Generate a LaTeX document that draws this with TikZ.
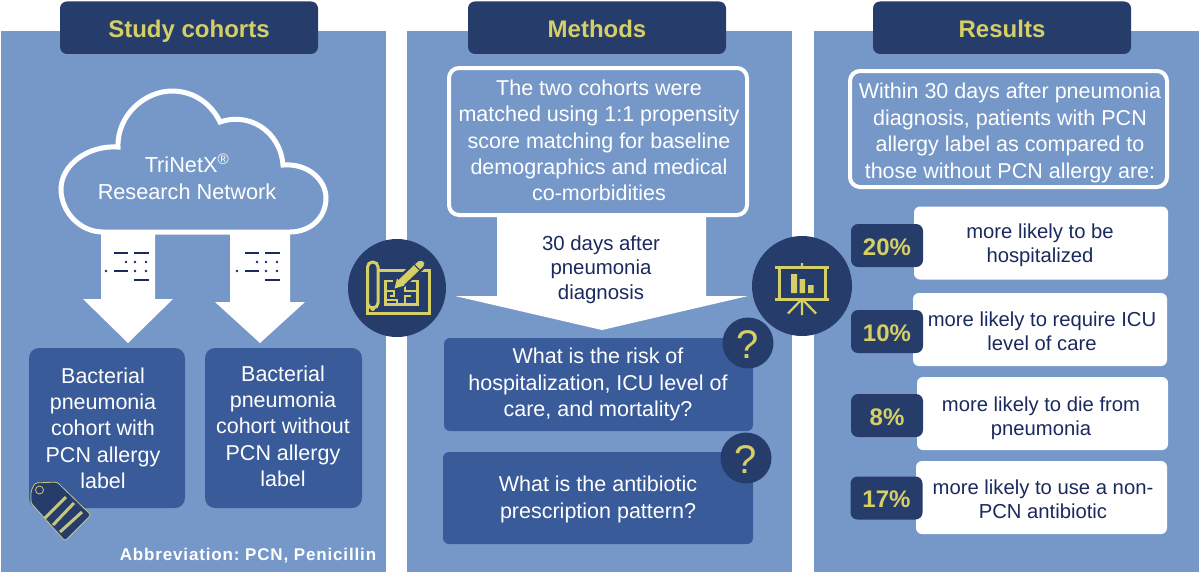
\documentclass[tikz,border=0pt]{standalone}
\usepackage{fontspec}
\setmainfont{Liberation Sans}
\definecolor{panelblue}{HTML}{7698C9}
\definecolor{navy}{HTML}{263D6B}
\definecolor{gold}{HTML}{D6CF66}
\definecolor{boxblue}{HTML}{3A5B9A}
\definecolor{inktext}{HTML}{1A2A5E}
\definecolor{tagline}{HTML}{C4C682}
\tikzset{
  every node/.style={inner sep=0pt,outer sep=0pt,align=center},
  panel/.style={fill=panelblue,minimum width=385pt,minimum height=541pt},
  header/.style={fill=navy,rounded corners=7pt,minimum width=258pt,minimum height=52.5pt,text=gold,text height=18.6pt,text depth=0pt,font=\fontsize{24}{28}\selectfont\bfseries},
  bluebox/.style={fill=boxblue,rounded corners=#1},
  bluebox/.default=10pt,
  outlinebox/.style={draw=white,line width=4pt,fill=panelblue,rounded corners=10pt},
  whitebox/.style={fill=white,rounded corners=6pt,minimum height=73pt},
  pctbox/.style={fill=navy,rounded corners=7pt,minimum width=72pt,minimum height=43pt,text=gold,text height=19pt,text depth=0pt,font=\fontsize{24}{28}\selectfont\bfseries},
  iconcircle/.style={circle,fill=navy},
  qcircle/.style={circle,fill=navy,minimum size=51pt,text=gold,text height=30pt,text depth=0pt,font=\fontsize{40}{44}\selectfont},
  blockarrow/.style={fill=white},
  ink/.style={draw=inktext,line width=1.2pt},
  dotmark/.style={fill=inktext},
  icon/.style={draw=gold,line width=3pt},
  thinicon/.style={draw=gold,line width=2.2pt},
  lighttext/.style={text=white,font=\fontsize{21.5}{26.4}\selectfont},
  darktext/.style={text=inktext,font=\fontsize{20.25}{24.3}\selectfont},
}
\newcommand{\morsemarks}[1]{%
  \begin{scope}[xshift=#1pt]
    \draw[ink] (114,253)--(128,253) (134,253)--(149,253) (114,271)--(128,271) (134,280)--(149,280);
    \foreach \px/\py in {126/262,135/262,146/262,106/271,135/271,146/271}
      \fill[dotmark] (\px,\py) circle (1.3pt);
  \end{scope}}
\begin{document}
\frenchspacing
\begin{tikzpicture}[x=1pt,y=-1pt]
\useasboundingbox (0,0) rectangle (1200,574);
\fill[white] (0,0) rectangle (1200,574);

% panels
\node[panel] (pleft) at (193.2,301.5) {};
\node[panel] (pmid) at (599,301.5) {};
\node[panel] (pright) at (1006.5,301.5) {};

% headers
\node[header] (hleft) at (189,27.7) {Study cohorts};
\node[header] (hmid) at (597,27.7) {Methods};
\node[header] (hright) at (1002,27.7) {Results};

% block arrows, left panel
\fill[blockarrow] (101,232)--(155,232)--(155,299)--(173,299)--(128,343)--(83,299)--(101,299)--cycle;
\fill[blockarrow] (230,232)--(290,232)--(290,302)--(305,302)--(260,343)--(215,302)--(230,302)--cycle;
\morsemarks{0}
\morsemarks{131}

% cloud
\draw[white,line width=5pt,line join=miter]
  (103,232) .. controls (80,232) and (61,212) .. (61,189)
  .. controls (61,165) and (88,145) .. (118,147)
  .. controls (117,115) and (145,91) .. (172,91)
  .. controls (195,91) and (212,105) .. (220,122)
  .. controls (248,112) and (280,130) .. (283,165)
  .. controls (308,163) and (326,180) .. (326,198)
  .. controls (326,218) and (310,232) .. (290,232)
  -- cycle;
\node[text=white,font=\fontsize{21.7}{27}\selectfont] (cloudtext) at (187,177) {TriNetX\textsuperscript{®}\\Research Network};

% cohort boxes
\node[bluebox,minimum width=156pt,minimum height=160pt] (cohortA) at (107,428) {};
\node[lighttext] (cohortAt) at (103,428.3) {Bacterial\\pneumonia\\cohort with\\PCN allergy\\label};
\node[bluebox,minimum width=157pt,minimum height=160pt] (cohortB) at (283.5,428) {};
\node[lighttext] (cohortBt) at (283,426.3) {Bacterial\\pneumonia\\cohort without\\PCN allergy\\label};

% tag
\draw[fill=navy,draw=tagline,line width=.8pt,rounded corners=2.5pt]
  (31,491)--(35,483)--(57,482)--(91,515)--(65,541)--(31,503)--cycle;
\draw[tagline,line width=.8pt] (39.5,490) circle (4pt);
\draw[tagline,line width=3pt]
  (45,518)--(66,497) (53,525)--(74,503) (60,532)--(82,512);

% abbreviation
\node[text=white,anchor=base,font=\fontsize{17}{20}\selectfont\bfseries\addfontfeature{LetterSpace=5}] (abbr) at (248,560.5) {Abbreviation: PCN, Penicillin};

% methods arrow and boxes
\fill[blockarrow] (497,215)--(706,215)--(706,296)--(748,296)--(602,330)--(455,296)--(497,296)--cycle;
\node[outlinebox,minimum width=298pt,minimum height=147pt] (match) at (598,141.5) {};
\node[lighttext] (matcht) at (599,140.5) {The two cohorts were\\matched using 1:1 propensity\\score matching for baseline\\demographics and medical\\co-morbidities};
\node[text=inktext,font=\fontsize{20.4}{24.5}\selectfont] (days) at (601,269.5) {30 days after\\pneumonia\\diagnosis};
\node[bluebox=6pt,minimum width=309pt,minimum height=93pt] (q1) at (598.5,384.5) {};
\node[lighttext] (q1t) at (598,384.5) {What is the risk of\\hospitalization, ICU level of\\care, and mortality?};
\node[bluebox=6pt,minimum width=310pt,minimum height=92pt] (q2) at (598,498) {};
\node[lighttext] (q2t) at (598,499.5) {What is the antibiotic\\prescription pattern?};
\node[qcircle] (qa) at (748,343) {?};
\node[qcircle] (qb) at (746,458) {?};

% results
\node[outlinebox,minimum width=317pt,minimum height=116pt] (within) at (1008.5,129) {};
\node[lighttext] (withint) at (1010,133) {Within 30 days after pneumonia\\diagnosis, patients with PCN\\allergy label as compared to\\those without PCN allergy are:};

\node[whitebox,minimum width=254pt] (w1) at (1041,243) {};
\node[whitebox,minimum width=254pt] (w2) at (1040,329.5) {};
\node[whitebox,minimum width=251pt] (w3) at (1042.5,413.5) {};
\node[whitebox,minimum width=251pt] (w4) at (1041.5,497.5) {};
\node[darktext] (w1t) at (1040,245.5) {more likely to be\\hospitalized};
\node[darktext] (w2t) at (1042,331) {more likely to require ICU\\level of care};
\node[darktext] (w3t) at (1041,418) {more likely to die from\\pneumonia};
\node[darktext] (w4t) at (1043,499.5) {more likely to use a non-\\PCN antibiotic};
\node[pctbox] (p1) at (887,245.5) {20\%};
\node[pctbox] (p2) at (887,331.5) {10\%};
\node[pctbox] (p3) at (887,415.5) {8\%};
\node[pctbox] (p4) at (886.5,498) {17\%};

% blueprint icon
\node[iconcircle,minimum size=98pt] (iconplan) at (397,288) {};
\draw[icon,rounded corners=5pt] (367.5,262)--(378,262)--(378,308)--(367.5,308)--cycle;
\draw[icon] (367.5,302)--(367.5,313.5)--(429,313.5)--(429,270.5)--(378,270.5);
\fill[gold] (372.7,308.5) circle (2.5pt);
\draw[thinicon]
  (393,281)--(385.5,281)--(385.5,304.5)--(417.5,304.5)--(417.5,281)--(400,281)
  (385.5,291)--(394,291)--(394,296)--(390,296)
  (385.5,300)--(397,300)--(397,304.5)
  (405,304.5)--(405,296)--(411,296)
  (417.5,291)--(405,291)--(405,281);
\draw[navy,line width=12pt] (398,285)--(425,260);
\fill[gold] (394.5,288.5)--(397,278.5)--(404.5,285.5)--cycle;
\fill[gold] (398,280.5)--(403,285.7)--(419,270.5)--(414,265.2)--cycle;
\fill[gold] (415,264.2)--(420,269.5)--(423.5,266)--(424.3,263)--(422,261)--(419,261)--cycle;

% presentation icon
\node[iconcircle,minimum size=100pt] (iconboard) at (802,286) {};
\draw[icon] (775,267)--(829,267) (775,299)--(829,299)
  (779,267)--(779,299) (825,267)--(825,299);
\draw[icon,line width=2.2pt] (802,263)--(802,267) (802,299)--(802,315)
  (802,299)--(788,313.5) (802,299)--(816,313.5);
\fill[gold] (791,274) rectangle (797,293)
  (799.5,279) rectangle (805,293)
  (808,285) rectangle (813.5,293);
\end{tikzpicture}
\end{document}
